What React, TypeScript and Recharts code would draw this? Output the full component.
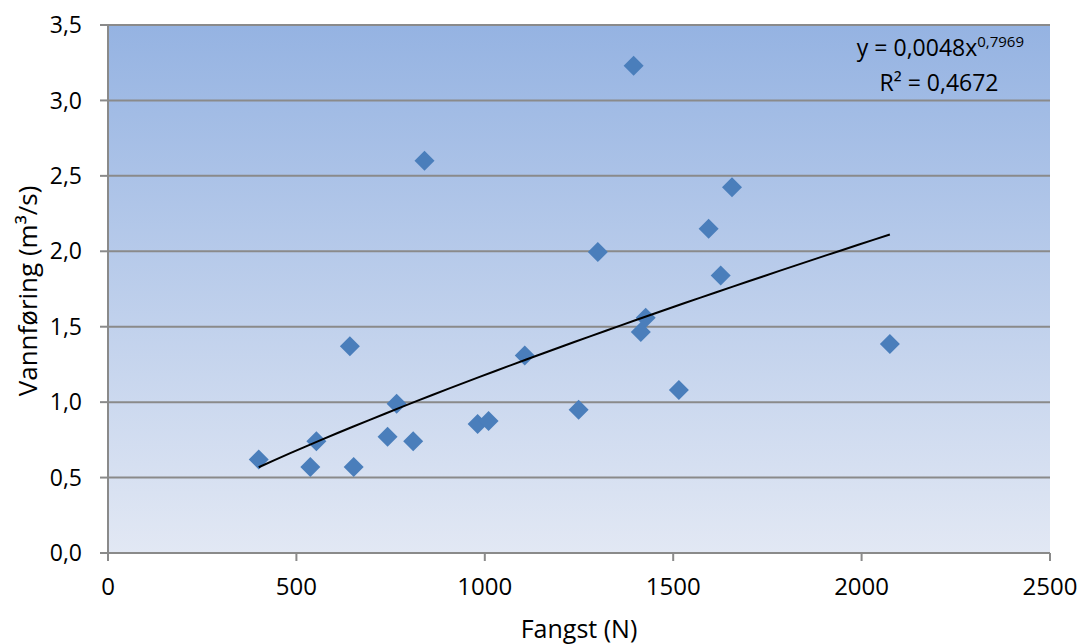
import React from 'react'
import { ScatterChart, Scatter, XAxis, YAxis, CartesianGrid } from 'recharts'

const fangst = [400, 537, 553, 642, 652, 742, 766, 810, 840, 981, 1010, 1106, 1249, 1300, 1395, 1414, 1427, 1515, 1594, 1626, 1656, 2075]
const vannforing = [0.62, 0.57, 0.74, 1.37, 0.57, 0.77, 0.99, 0.74, 2.6, 0.855, 0.875, 1.31, 0.95, 1.995, 3.23, 1.465, 1.56, 1.08, 2.15, 1.84, 2.425, 1.385]
const xTicks = [0, 500, 1000, 1500, 2000, 2500]
const yTicks = [0, 0.5, 1, 1.5, 2, 2.5, 3, 3.5]

// power trendline as printed in the chart
const trendA = 0.0048
const trendB = 0.7969

const points = fangst.map((x, i) => ({ x, y: vannforing[i] }))

const xMin = Math.min(...fangst)
const xMax = Math.max(...fangst)
const trend = Array.from({ length: 41 }, (_, i) => {
  const x = xMin + ((xMax - xMin) * i) / 40
  return { x, y: trendA * Math.pow(x, trendB) }
})

const FONT = 'Open Sans, sans-serif'
const fmt = (v: number) => v.toFixed(1).replace('.', ',')

const Diamond = (props: any) => {
  const { cx, cy } = props
  if (cx == null || cy == null) return null
  const r = 10
  return <path d={`M${cx},${cy - r}L${cx + r},${cy}L${cx},${cy + r}L${cx - r},${cy}Z`} fill="#4a7ebb" />
}

export default function App() {
  return (
    <div style={{ position: 'absolute', left: 0, top: 0, background: '#fff' }}>
      <ScatterChart width={1081} height={644} margin={{ top: 25, right: 31, bottom: 0, left: 0 }}>
        <defs>
          <linearGradient id="bg" x1="0" y1="0" x2="0" y2="1">
            <stop offset="0%" stopColor="#95b3e2" />
            <stop offset="100%" stopColor="#e2e8f4" />
          </linearGradient>
        </defs>
        <CartesianGrid vertical={false} stroke="#8a8a8a" strokeWidth={2} fill="url(#bg)" fillOpacity={1} />
        <XAxis
          type="number"
          dataKey="x"
          domain={[0, 2500]}
          ticks={xTicks}
          height={91}
          tickSize={8}
          tickMargin={17}
          stroke="#8a8a8a"
          strokeWidth={2}
          tick={{ fontSize: 24, fill: '#000', fontFamily: FONT }}
        />
        <YAxis
          type="number"
          dataKey="y"
          domain={[0, 3.5]}
          ticks={yTicks}
          width={108}
          tickSize={8}
          tickMargin={18}
          tickFormatter={fmt}
          stroke="#8a8a8a"
          strokeWidth={2}
          tick={{ fontSize: 23, fill: '#000', fontFamily: FONT }}
        />
        <Scatter data={points} shape={<Diamond />} isAnimationActive={false} />
        <Scatter data={trend} line={{ stroke: '#000', strokeWidth: 2 }} shape={() => null} isAnimationActive={false} />
        <text x={579} y={638} textAnchor="middle" fontSize={25} fontFamily={FONT} fill="#000">Fangst (N)</text>
        <text x={37} y={291} textAnchor="middle" fontSize={26} fontFamily={FONT} fill="#000" transform="rotate(-90 37 291)">Vannføring (m³/s)</text>
        <text x={1024} y={56} textAnchor="end" fontSize={23} fontFamily={FONT} fill="#000">
          y = 0,0048x<tspan fontSize={15} dy={-9}>0,7969</tspan>
        </text>
        <text x={939} y={91} textAnchor="middle" fontSize={23} fontFamily={FONT} fill="#000">R² = 0,4672</text>
      </ScatterChart>
    </div>
  )
}
